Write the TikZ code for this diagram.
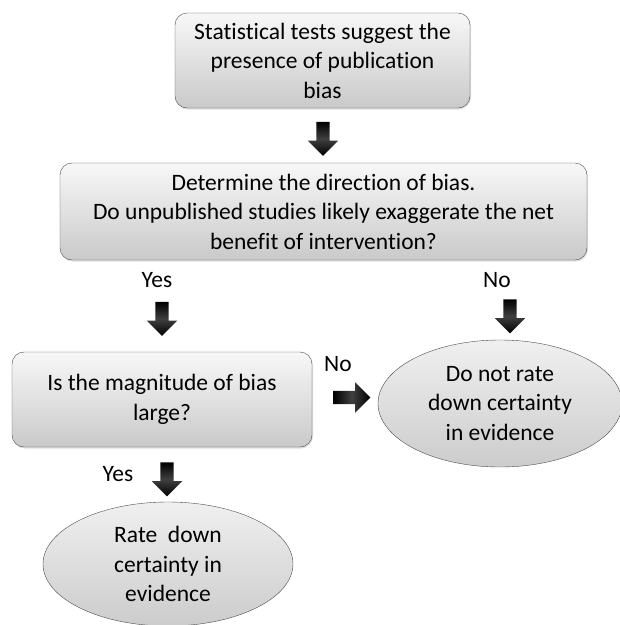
\documentclass[tikz,border=0pt]{standalone}
\usepackage{fontspec}
\setmainfont{Carlito}[Ligatures=NoCommon]
\usetikzlibrary{shapes.geometric,shapes.arrows,positioning,calc,shadows}

\tikzset{
  txt/.style={font=\fontsize{23.5}{29.5}\selectfont},
  box/.style={txt, draw=black!70, rounded corners=12pt, align=center,
    top color=gray!6, bottom color=gray!42,
    drop shadow={opacity=0.25, shadow xshift=1pt, shadow yshift=-1.5pt}},
  oval/.style={txt, ellipse, draw=black!70, align=center, inner sep=0pt,
    top color=gray!12, bottom color=gray!40},
  blockarrow/.style={single arrow, draw=none, inner sep=6.5pt,
    single arrow head extend=8.5pt, minimum height=34pt,
    left color=black, right color=black, middle color=black!75},
  downarrow/.style={blockarrow, shape border rotate=270,
    top color=black, bottom color=black, middle color=black!75},
}

\begin{document}
\begin{tikzpicture}[x=1pt,y=1pt]
\useasboundingbox (0,0) rectangle (620,-625);

% boxes
\node[box, minimum width=295, minimum height=95] (stat) at (322.5,-60.5)
  {Statistical tests suggest the\\ presence of publication\\ bias};
\node[box, minimum width=527, minimum height=97] (dir) at (323.5,-211.5)
  {Determine the direction of bias.\\ Do unpublished studies likely exaggerate the net\\ benefit of intervention?};
\node[box, minimum width=300, minimum height=95] (magn) at (162,-399.5)
  {Is the magnitude of bias\\ large?};
\node[oval, minimum width=244, minimum height=127] (norate) at (500,-403.5)
  {Do not rate\\ down certainty\\ in evidence};
\node[oval, minimum width=250, minimum height=124] (rate) at (168,-564)
  {Rate~ down\\ certainty in\\ evidence};

% labels
\node[txt] (yes1) at (157,-280) {Yes};
\node[txt] (no1) at (497,-280) {No};
\node[txt] (no2) at (338,-364) {No};
\node[txt] (yes2) at (118,-474) {Yes};

% arrows
\node[downarrow] (a1) at ($(stat.south)!0.5!(dir.north)$) {};
\node[downarrow] (a2) at (162,-315.5) {};
\node[downarrow] (a3) at (510,-313) {};
\node[blockarrow, minimum height=37pt] (a4) at (348.5,-397.5) {};
\node[downarrow] (a5) at (167,-476) {};
\end{tikzpicture}
\end{document}
